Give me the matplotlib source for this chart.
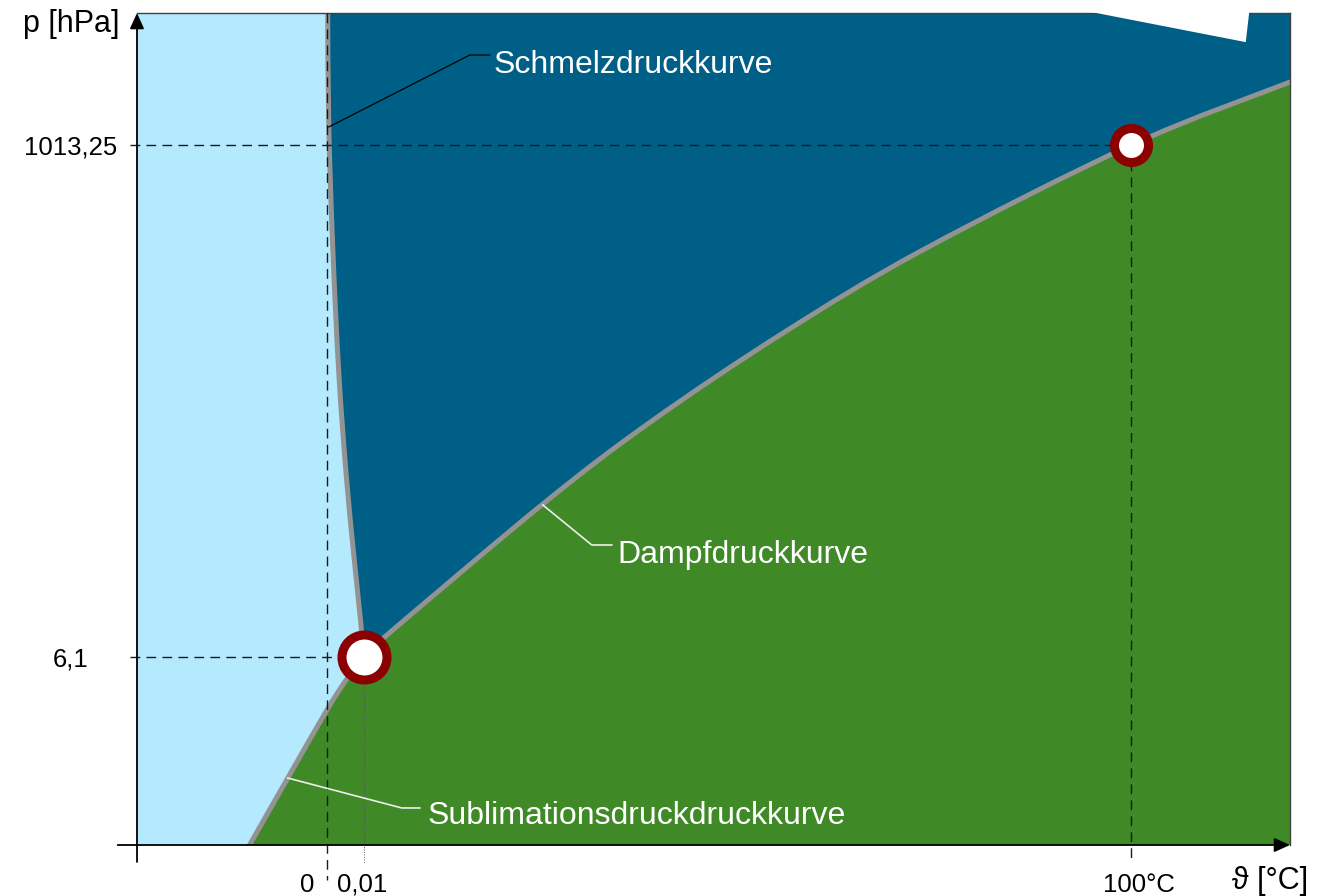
import matplotlib
matplotlib.use('Agg')
import numpy as np
import matplotlib.pyplot as plt
from matplotlib.patches import Polygon, PathPatch
from matplotlib.path import Path

plt.rcParams['font.family'] = ['Liberation Sans', 'DejaVu Sans']

# ---- schematic coordinates (0 °C at x=0, 100 °C at x=100; y is schematic pressure) ----
x_min, x_max = -23.6, 119.8
y_min, y_max = 0.0, 100.0

x_tick_pos = [0.0, 4.6, 100.0]
x_tick_labels = ['0', '0,01', '100°C']
y_tick_pos = [22.6, 84.1]
y_tick_labels = ['6,1', '1013,25']

triple_point = (4.6, 22.6)
boiling_point = (100.0, 84.1)

# Dampfdruckkurve (vapour pressure curve)
vapor_x = [4.6, 7.2, 26.9, 40.2, 56.7, 74.1, 100.0, 119.8]
vapor_y = [22.6, 25.0, 41.0, 50.8, 61.5, 71.5, 84.1, 91.7]

# Sublimationsdruckkurve
sub_x = [-9.6, -4.85, 0.19, 2.6, 4.6]
sub_y = [0.0, 8.05, 16.5, 20.1, 22.6]

# Schmelzdruckkurve (melting curve)
melt_x = [4.6, 4.2, 3.4, 2.43, 1.49, 0.75, 0.25, 0.12]
melt_y = [22.6, 27.0, 34.5, 44.35, 56.85, 71.75, 86.5, 100.0]

C_SOLID = '#B5E9FD'
C_LIQUID = '#005F87'
C_GAS = '#3F8927'
C_CURVE = '#939393'
C_RING = '#8B0000'
C_DASH = '#1a1a1a'


def smooth_segments(xs, ys):
    """Cubic Bezier segments (Catmull-Rom style) through the given points."""
    pts = np.column_stack([xs, ys]).astype(float)
    n = len(pts)
    verts, codes = [], []
    for i in range(n - 1):
        p0 = pts[i - 1] if i > 0 else pts[i]
        p1, p2 = pts[i], pts[i + 1]
        p3 = pts[i + 2] if i + 2 < n else pts[i + 1]
        verts += [p1 + (p2 - p0) / 6.0, p2 - (p3 - p1) / 6.0, p2]
        codes += [Path.CURVE4] * 3
    return verts, codes


def curve_path(xs, ys):
    v, c = smooth_segments(xs, ys)
    return Path([(xs[0], ys[0])] + v, [Path.MOVETO] + c)


fig = plt.figure(figsize=(13.21, 8.96), dpi=100)
ax = fig.add_axes([137 / 1321, 51 / 896, (1290 - 137) / 1321, (845 - 13) / 896])
ax.set_xlim(x_min, x_max)
ax.set_ylim(y_min, y_max)
ax.set_facecolor(C_SOLID)

# regions
mv, mc = smooth_segments(melt_x[::-1], melt_y[::-1])
vv, vc = smooth_segments(vapor_x, vapor_y)
sv, sc = smooth_segments(sub_x, sub_y)
liquid = Path([(melt_x[-1], melt_y[-1])] + mv + vv + [(x_max, y_max), (0, 0)],
              [Path.MOVETO] + mc + vc + [Path.LINETO, Path.CLOSEPOLY])
gas = Path([(sub_x[0], sub_y[0])] + sv + vv + [(x_max, y_min), (0, 0)],
           [Path.MOVETO] + sc + vc + [Path.LINETO, Path.CLOSEPOLY])
ax.add_patch(PathPatch(liquid, facecolor=C_LIQUID, edgecolor='none', zorder=1))
ax.add_patch(PathPatch(gas, facecolor=C_GAS, edgecolor='none', zorder=1))

# phase boundary curves
for cx, cy in ((vapor_x, vapor_y), (sub_x, sub_y), (melt_x, melt_y)):
    ax.add_patch(PathPatch(curve_path(cx, cy), facecolor='none', edgecolor=C_CURVE, lw=3.6,
                           capstyle='round', zorder=2))

# frame
for s in ('left', 'bottom'):
    ax.spines[s].set_visible(False)
for s in ('top', 'right'):
    ax.spines[s].set_color('#404040')
    ax.spines[s].set_linewidth(1.0)

# white notch at the top right
ax.add_patch(Polygon([(92.0, 100.7), (114.3, 96.5), (114.8, 100.7)], closed=True,
                     facecolor='white', edgecolor='none', zorder=10, clip_on=False))

# axis arrows
ax.annotate('', xy=(x_min, y_max), xytext=(x_min, -2.04),
            arrowprops=dict(arrowstyle='-|>,head_length=0.95,head_width=0.43', lw=1.3,
                            color='black', shrinkA=0, shrinkB=0, mutation_scale=10),
            annotation_clip=False, zorder=6)
ax.annotate('', xy=(x_max, y_min), xytext=(-26.0, y_min),
            arrowprops=dict(arrowstyle='-|>,head_length=0.95,head_width=0.43', lw=1.3,
                            color='black', shrinkA=0, shrinkB=0, mutation_scale=10),
            annotation_clip=False, zorder=6)

# helper lines
dash = (0, (7, 4.5))
ax.plot([-24.5, boiling_point[0]], [boiling_point[1]] * 2, ls=dash, lw=1.0, color=C_DASH, clip_on=False, zorder=3)
ax.plot([-24.5, triple_point[0]], [triple_point[1]] * 2, ls=dash, lw=1.0, color=C_DASH, clip_on=False, zorder=3)
ax.plot([x_tick_pos[0]] * 2, [y_max, -4.2], ls=dash, lw=1.0, color=C_DASH, clip_on=False, zorder=3)
ax.plot([boiling_point[0]] * 2, [boiling_point[1], -1.7], ls=dash, lw=1.0, color=C_DASH, clip_on=False, zorder=3)
ax.plot([triple_point[0]] * 2, [triple_point[1], -2.2], ls=(0, (1, 1.5)), lw=0.7, color='#555555',
        clip_on=False, zorder=3)

# special points
ax.plot(*triple_point, 'o', ms=32.4, mfc='white', mec=C_RING, mew=6.5, zorder=5, clip_on=False)
ax.plot(*boiling_point, 'o', ms=24.5, mfc='white', mec=C_RING, mew=6.5, zorder=5, clip_on=False)

# y ticks
ax.set_yticks(y_tick_pos, y_tick_labels, fontsize=18.5)
ax.tick_params(axis='y', length=0, pad=48)
for lab in ax.get_yticklabels():
    lab.set_horizontalalignment('center')
ax.set_xticks([])

# x tick labels
x_offsets = [-14.4, -1.4, 5.8]
for pos, lab, dx in zip(x_tick_pos, x_tick_labels, x_offsets):
    ax.annotate(lab, xy=(pos, 0), xycoords=('data', 'axes fraction'), xytext=(dx, -33.8),
                textcoords='offset points', ha='center', va='baseline', fontsize=18.5,
                annotation_clip=False)

# axis titles
ax.text(-25.75, 97.7, 'p [hPa]', ha='right', va='baseline', fontsize=22, clip_on=False)
ax.text(117.3, -5.29, 'ϑ [°C]', ha='center', va='baseline', fontsize=22, clip_on=False)

# curve annotations
ax.plot([0.25, 17.79, 20.27], [86.3, 94.95, 94.95], color='black', lw=0.9, zorder=4)
ax.text(20.77, 92.8, 'Schmelzdruckkurve', color='white', fontsize=23, ha='left', va='baseline', zorder=6)

ax.plot([26.87, 32.96, 35.45], [40.87, 36.06, 36.06], color='#eeeeee', lw=1.2, zorder=4)
ax.text(36.19, 33.9, 'Dampfdruckkurve', color='white', fontsize=23, ha='left', va='baseline', zorder=6)

ax.plot([-4.85, 9.33, 11.57], [8.05, 4.45, 4.45], color='#eeeeee', lw=1.2, zorder=4)
ax.text(12.56, 2.55, 'Sublimationsdruckdruckkurve', color='white', fontsize=23, ha='left', va='baseline', zorder=6)

fig.savefig('out.png', dpi=100)
